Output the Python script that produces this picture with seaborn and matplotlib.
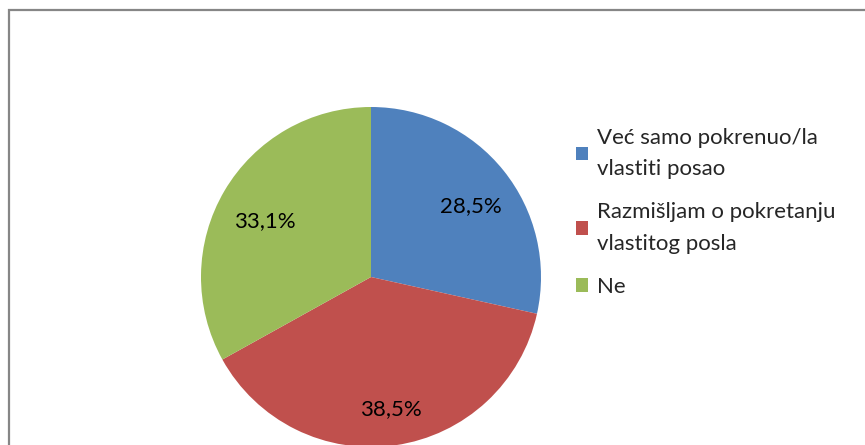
import matplotlib
matplotlib.use("Agg")
import matplotlib.pyplot as plt
import matplotlib.transforms as mtransforms
import seaborn as sns
from matplotlib.patches import Rectangle

categories = ["Već samo pokrenuo/la\nvlastiti posao",
              "Razmišljam o pokretanju\nvlastitog posla",
              "Ne"]
values = [28.5, 38.5, 33.1]
value_labels = ["28,5%", "38,5%", "33,1%"]
colors = ["#4F81BD", "#C0504D", "#9BBB59"]

sns.set_theme(style="white")
plt.rcParams["font.family"] = ["Lato", "DejaVu Sans"]

fig = plt.figure(figsize=(8.65, 4.45), dpi=100)
fig.patch.set_facecolor("white")

# chart area border (clipped at right and bottom like the original)
fig.patches.append(Rectangle((9 / 865, -0.1), 1.2, (445 - 10) / 445 + 0.1,
                             transform=fig.transFigure, fill=False,
                             edgecolor="#868686", linewidth=1.6))

ax = fig.add_axes([201 / 865, -2 / 445, 340 / 865, 340 / 445])
wedges, texts = ax.pie(values, colors=colors, startangle=90, counterclock=False,
                       radius=1, labels=value_labels, labeldistance=0.74,
                       wedgeprops=dict(linewidth=0),
                       textprops=dict(fontsize=16, color="black", ha="center",
                                      va="center_baseline"))
# nudge the value labels a little lower, like Excel does
for t in texts:
    t.set_transform(mtransforms.offset_copy(ax.transData, fig=fig, x=2, y=-6, units="dots"))
ax.set_xlim(-1, 1)
ax.set_ylim(-1, 1)
ax.set_aspect("equal")
ax.axis("off")

leg = fig.legend(wedges, categories, loc="upper left",
                 bbox_to_anchor=(567 / 865, 1 - 119 / 445),
                 frameon=False, fontsize=16, handlelength=0.56, handleheight=0.56,
                 handletextpad=0.4, labelspacing=1.05, borderaxespad=0)
for t in leg.get_texts():
    t.set_linespacing(1.7)

fig.savefig("out.png", dpi=100)
